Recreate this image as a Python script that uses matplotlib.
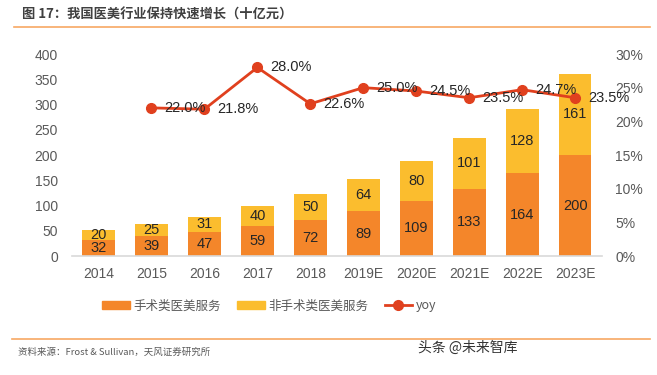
import numpy as np
import matplotlib.pyplot as plt
from matplotlib.lines import Line2D
from matplotlib.patches import Patch

plt.rcParams['font.family'] = ['Noto Sans CJK SC', 'DejaVu Sans']

# ---------------------------------------------------------------------------
# Data
# ---------------------------------------------------------------------------
years = ["2014", "2015", "2016", "2017", "2018",
         "2019E", "2020E", "2021E", "2022E", "2023E"]
surgical = [32, 39, 47, 59, 72, 89, 109, 133, 164, 200]
non_surgical = [20, 25, 31, 40, 50, 64, 80, 101, 128, 161]
yoy_years = years[1:]
yoy = [22.0, 21.8, 28.0, 22.6, 25.0, 24.5, 23.5, 24.7, 23.5]

C_SURG = "#F4862A"
C_NONS = "#FBBD2E"
C_YOY = "#E0401E"
C_TEXT = "#262626"
C_TICK = "#595959"

fig = plt.figure(figsize=(6.57, 3.75), dpi=100)
ax = fig.add_axes([0.1096, 0.3173, 0.806, 0.5387])
ax2 = ax.twinx()

x = np.arange(len(years))
w = 0.62
ax.bar(x, surgical, w, color=C_SURG, zorder=2)
ax.bar(x, non_surgical, w, bottom=surgical, color=C_NONS, zorder=2)

for i in range(len(years)):
    ax.text(x[i], surgical[i] / 2, str(surgical[i]), ha="center", va="center",
            fontsize=10.5, color=C_TEXT, family="Liberation Sans", zorder=3)
    ax.text(x[i], surgical[i] + non_surgical[i] / 2, str(non_surgical[i]),
            ha="center", va="center", fontsize=10.5, color=C_TEXT,
            family="Liberation Sans", zorder=3)

ax.set_xlim(-0.5, len(years) - 0.5)
ax.set_ylim(0, 400)
ax.set_yticks(range(0, 401, 50))
ax.set_xticks(x)
ax.set_xticklabels(years)

xy = x[1:]
ax2.plot(xy, yoy, color=C_YOY, lw=2, marker="o", ms=7, zorder=4)
for xi, v in zip(xy, yoy):
    ax2.text(xi + 0.25, v, f"{v:.1f}%", ha="left", va="center",
             fontsize=10.5, color=C_TEXT, family="Liberation Sans", zorder=5)
ax2.set_ylim(0, 30)
ax2.set_yticks(range(0, 31, 5))
ax2.set_yticklabels([f"{t}%" for t in range(0, 31, 5)])

for a in (ax, ax2):
    for s in a.spines.values():
        s.set_visible(False)
    a.tick_params(length=0, labelsize=10, labelcolor=C_TICK)
    for lab in a.get_xticklabels() + a.get_yticklabels():
        lab.set_family("Liberation Sans")
ax.spines["bottom"].set_visible(True)
ax.spines["bottom"].set_color("#D9D9D9")
ax.spines["bottom"].set_linewidth(1.2)
ax.tick_params(axis="x", pad=8)
ax.tick_params(axis="y", pad=10)
ax2.tick_params(axis="y", pad=10)

# legend
handles = [Patch(color=C_SURG), Patch(color=C_NONS),
           Line2D([], [], color=C_YOY, lw=2, marker="o", ms=7)]
labels = ["手术类医美服务", "非手术类医美服务", "yoy"]
fig.legend(handles, labels, loc="center", bbox_to_anchor=(0.41, 0.184),
           ncol=3, frameon=False, fontsize=9, labelcolor=C_TICK,
           handlelength=2.2, handleheight=0.6, columnspacing=1.3,
           handletextpad=0.3)

# title, rules, source
fig.text(0.033, 0.962, "图 17：我国医美行业保持快速增长（十亿元）", fontsize=9.5,
         color="#404040", weight="bold", va="center")
fig.add_artist(Line2D([0.021, 0.99], [0.928, 0.928], color="#F7A864", lw=1.2))
fig.add_artist(Line2D([0.018, 0.99], [0.096, 0.096], color="#F7A864", lw=1.2))
fig.text(0.027, 0.062, "资料来源：Frost & Sullivan，天风证券研究所", fontsize=6.8,
         color=C_TICK, va="center")
fig.text(0.636, 0.072, "头条 @未来智库", fontsize=10, color="#333333",
         va="center")

fig.savefig("out.png", dpi=100)
